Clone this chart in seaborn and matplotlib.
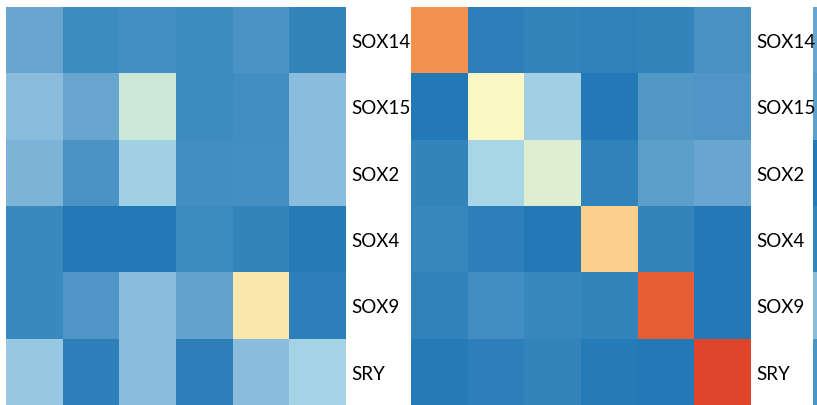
import numpy as np
import pandas as pd
import seaborn as sns
import matplotlib.pyplot as plt
from matplotlib.colors import LinearSegmentedColormap

genes = ["SOX14", "SOX15", "SOX2", "SOX4", "SOX9", "SRY"]

# left panel
panel_a = [
    [0.20, 0.08, 0.10, 0.08, 0.12, 0.05],
    [0.30, 0.20, 0.45, 0.08, 0.09, 0.30],
    [0.26, 0.12, 0.37, 0.09, 0.10, 0.30],
    [0.07, 0.00, 0.00, 0.08, 0.05, 0.01],
    [0.07, 0.13, 0.30, 0.18, 0.56, 0.03],
    [0.34, 0.03, 0.30, 0.03, 0.30, 0.38],
]
# middle panel
panel_b = [
    [0.72, 0.03, 0.05, 0.04, 0.05, 0.11],
    [0.00, 0.52, 0.37, 0.00, 0.14, 0.13],
    [0.05, 0.39, 0.48, 0.04, 0.17, 0.20],
    [0.06, 0.03, 0.00, 0.62, 0.05, 0.00],
    [0.04, 0.09, 0.06, 0.05, 0.85, 0.00],
    [0.01, 0.03, 0.05, 0.01, 0.00, 0.92],
]
# only the first column of the third panel is visible
panel_c = [0.20, 0.17, 0.00, 0.05, 0.30, 0.12]

cmap = LinearSegmentedColormap.from_list("sox", [
    (0.0, "#2279b5"),
    (0.3, "#8bbcdc"),
    (0.4, "#abd9e9"),
    (0.52, "#fbf9c4"),
    (0.62, "#fcd08c"),
    (0.72, "#f49250"),
    (0.9, "#e04b2b"),
    (1.0, "#d73027"),
])

plt.rcParams['font.family'] = ['Lato', 'DejaVu Sans']

W, H = 817, 406
fig = plt.figure(figsize=(W / 100, H / 100), dpi=100)


def panel(x0, data, cols, width, z):
    ax = fig.add_axes([x0 / W, 0, width / W, (H - 8) / H], zorder=z)
    df = pd.DataFrame(data, index=genes)
    sns.heatmap(df, ax=ax, cmap=cmap, vmin=0, vmax=1, cbar=False,
                xticklabels=False, yticklabels=cols)
    ax.yaxis.tick_right()
    ax.tick_params(axis="y", length=0, pad=3.5, labelsize=13.5, rotation=0)
    ax.set_ylabel("")
    return ax


panel(6, panel_a, genes, 340, 3)
panel(411, panel_b, genes, 340, 2)
panel(813, [[v] for v in panel_c], False, 56.7, 1)

fig.savefig("out.png", dpi=100)
